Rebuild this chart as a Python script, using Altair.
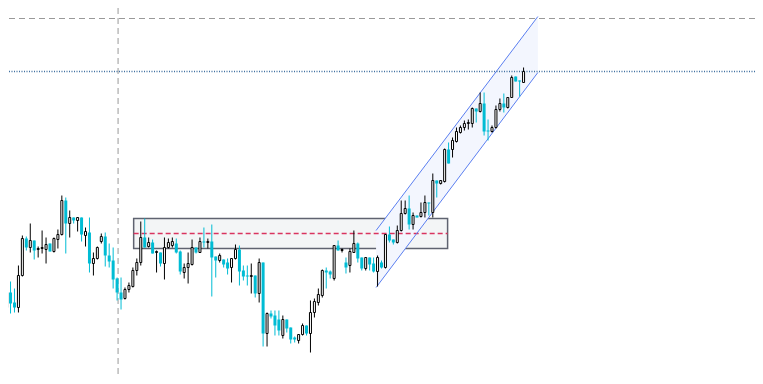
import altair as alt
import pandas as pd

# Candle values (price points), one per bar
OPEN = [93,108,98,93,125,162,153,160,151,152,151,157,149,161,166,200,177,183,180,183,
        165,168,137,142,159,164,145,140,122,108,102,111,114,130,138,163,154,158,148,148,
        137,153,155,157,149,128,133,136,153,148,159,158,159,144,140,141,138,133,142,151,
        130,125,124,125,107,138,67,87,85,81,65,81,73,63,60,66,75,67,88,98,
        105,130,129,122,155,150,138,135,148,157,143,132,143,137,129,138,133,166,161,158,
        170,187,192,176,185,184,188,198,188,220,217,219,251,251,259,268,273,277,277,292,
        289,297,270,269,273,291,297,293,303,324,320,318]
HIGH = [112,119,112,135,165,164,177,160,154,170,163,157,163,171,205,203,190,183,183,183,
        173,183,148,154,167,168,157,153,123,123,113,118,133,142,179,182,163,161,150,148,
        163,162,163,162,150,137,148,161,153,163,173,162,176,144,147,141,142,142,156,155,
        135,135,137,125,142,138,88,90,90,90,85,81,73,64,66,77,75,100,102,112,
        131,133,130,155,160,152,143,152,170,158,143,143,143,143,145,140,166,174,161,175,
        200,200,205,188,185,198,205,198,227,220,220,252,258,263,273,275,280,281,293,292,
        308,308,281,275,295,302,307,303,325,324,320,333]
LOW = [89,87,88,88,124,150,148,141,143,147,137,149,148,152,165,147,163,177,169,159,
       154,128,125,141,157,134,133,112,100,91,101,108,113,125,135,153,153,147,128,134,
       121,152,153,147,126,122,117,135,147,148,153,152,104,123,138,133,126,118,141,115,
       120,115,107,103,98,54,54,82,65,65,62,68,57,58,57,65,65,48,83,95,
       103,112,122,120,150,148,127,128,148,138,130,130,130,128,114,132,132,158,156,157,
       169,186,171,171,183,183,183,185,183,203,216,218,237,243,258,267,270,271,273,278,
       288,265,260,268,272,289,288,292,303,319,304,318]
CLOSE = [108,97,93,125,162,153,160,150,152,153,156,149,162,166,200,177,183,180,183,166,
         169,137,142,153,164,145,139,121,108,101,111,115,130,138,163,153,158,147,149,137,
         153,158,159,148,129,133,137,153,148,159,158,159,143,140,145,136,132,142,151,129,
         124,124,125,107,138,67,87,84,75,70,81,72,61,61,66,75,67,88,99,106,
         130,128,126,155,150,151,133,149,157,142,132,143,136,129,143,133,166,160,158,170,
         187,192,176,185,183,188,198,197,220,217,220,251,237,260,269,273,277,278,292,289,
         297,269,269,273,291,297,293,303,323,319,319,329]

# Drawn objects (bar index / price points)
ZONE_BARS = [32.2, 111.75]
ZONE_PRICES = [152, 182]
ZONE_MID = 167
CHANNEL_BARS = [93.625, 134.625]
CHANNEL_UPPER = [170, 384]
CHANNEL_LOWER = [113, 328]
RESIST_LEVEL = [382]
LAST_PRICE = [329]
MARKER_BAR = [28.25]

UP_COL = "#000000"
DOWN_COL = "#00bcd4"

n = len(OPEN)
df = pd.DataFrame({
    "i": list(range(n)), "o": OPEN, "h": HIGH, "l": LOW, "c": CLOSE,
})
df["dir"] = ["up" if c >= o else "down" for o, c in zip(OPEN, CLOSE)]

XS = alt.Scale(domain=[1.625, 188.375], nice=False, zero=False)
YS = alt.Scale(domain=[24.5, 392.5], nice=False, zero=False)

zone_df = pd.DataFrame({"x1": [ZONE_BARS[0]], "x2": [ZONE_BARS[1]],
                        "y1": [ZONE_PRICES[0]], "y2": [ZONE_PRICES[1]], "m": [ZONE_MID]})
chan_df = pd.DataFrame({"i": CHANNEL_BARS, "up": CHANNEL_UPPER, "lo": CHANNEL_LOWER})
chan_lines = pd.DataFrame({
    "x1": [CHANNEL_BARS[0], CHANNEL_BARS[0]], "x2": [CHANNEL_BARS[1], CHANNEL_BARS[1]],
    "y1": [CHANNEL_UPPER[0], CHANNEL_LOWER[0]], "y2": [CHANNEL_UPPER[1], CHANNEL_LOWER[1]],
})

zone = alt.Chart(zone_df).mark_rect(fill="#f3f5f6", stroke="#5f6370", strokeWidth=1.5).encode(
    x=alt.X("x1:Q", scale=XS, axis=None), x2="x2:Q",
    y=alt.Y("y1:Q", scale=YS, axis=None), y2="y2:Q")
zone_mid = alt.Chart(zone_df).mark_rule(color="#d9345f", strokeDash=[5, 3], strokeWidth=1.5).encode(
    x=alt.X("x1:Q", scale=XS, axis=None), x2="x2:Q",
    y=alt.Y("m:Q", scale=YS, axis=None))
chan_area = alt.Chart(chan_df).mark_area(color="#f3f6fe").encode(
    x=alt.X("i:Q", scale=XS, axis=None),
    y=alt.Y("up:Q", scale=YS, axis=None), y2="lo:Q")
chan_rules = alt.Chart(chan_lines).mark_rule(color="#5a7ef0", strokeWidth=1).encode(
    x=alt.X("x1:Q", scale=XS, axis=None), x2="x2:Q",
    y=alt.Y("y1:Q", scale=YS, axis=None), y2="y2:Q")
hline = alt.Chart(pd.DataFrame({"v": RESIST_LEVEL})).mark_rule(
    color="#999999", strokeDash=[6, 4], strokeWidth=1).encode(
    y=alt.Y("v:Q", scale=YS, axis=None))
dotted = alt.Chart(pd.DataFrame({"v": LAST_PRICE})).mark_rule(
    color="#3f6fa0", strokeDash=[1, 1.5], strokeWidth=1.5).encode(
    y=alt.Y("v:Q", scale=YS, axis=None))
vline = alt.Chart(pd.DataFrame({"i": MARKER_BAR})).mark_rule(
    color="#999999", strokeDash=[6, 4], strokeWidth=1).encode(
    x=alt.X("i:Q", scale=XS, axis=None))

base = alt.Chart(df)
wicks = base.mark_rule(strokeWidth=1).encode(
    x=alt.X("i:Q", scale=XS, axis=None),
    y=alt.Y("l:Q", scale=YS, axis=None), y2="h:Q",
    color=alt.Color("dir:N", scale=alt.Scale(domain=["up", "down"], range=[UP_COL, DOWN_COL]), legend=None))
bull = base.transform_filter("datum.dir == 'up'").mark_bar(
    width=2, fill="white", stroke=UP_COL, strokeWidth=1).encode(
    x=alt.X("i:Q", scale=XS, axis=None),
    y=alt.Y("o:Q", scale=YS, axis=None), y2="c:Q")
bear = base.transform_filter("datum.dir == 'down'").mark_bar(
    width=3, color=DOWN_COL).encode(
    x=alt.X("i:Q", scale=XS, axis=None),
    y=alt.Y("o:Q", scale=YS, axis=None), y2="c:Q")

chart = alt.layer(zone, chan_area, hline, vline, zone_mid, chan_rules, dotted, wicks, bull, bear).properties(
    width=747, height=368, padding=0, autosize="none"
).configure_view(strokeWidth=0)

chart.save("out.html", embed_options={"renderer": "svg", "actions": False})
